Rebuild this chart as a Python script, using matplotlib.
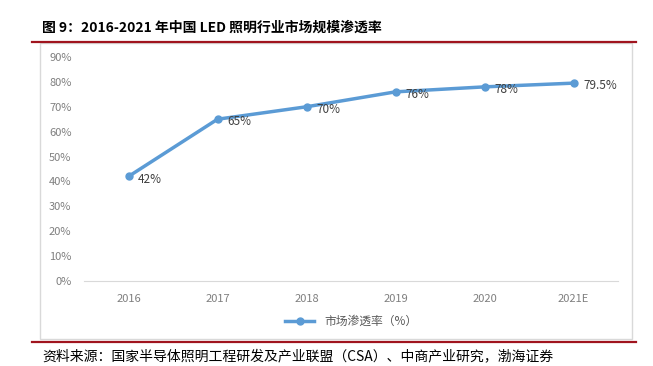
import matplotlib
matplotlib.use("Agg")
import matplotlib.pyplot as plt
from matplotlib.lines import Line2D
from matplotlib.patches import Rectangle

plt.rcParams['font.family'] = ['Noto Sans CJK SC', 'DejaVu Sans']

years = ["2016", "2017", "2018", "2019", "2020", "2021E"]
rates = [0.42, 0.65, 0.70, 0.76, 0.78, 0.795]
rate_labels = ["42%", "65%", "70%", "76%", "78%", "79.5%"]
yticks = [0, 0.1, 0.2, 0.3, 0.4, 0.5, 0.6, 0.7, 0.8, 0.9]

title = "图 9：2016-2021 年中国 LED 照明行业市场规模渗透率"
source = "资料来源：国家半导体照明工程研发及产业联盟（CSA）、中商产业研究，渤海证券"
series_name = "市场渗透率（%）"

blue = "#5B9BD5"
dark_red = "#A0141E"

fig = plt.figure(figsize=(6.53, 3.66), dpi=100)

# chart frame and red rules
fig.patches.append(Rectangle((40 / 653, 1 - 339 / 366), 592 / 653, 296 / 366,
                             transform=fig.transFigure, fill=False,
                             edgecolor="#D9D9D9", linewidth=1))
fig.add_artist(Line2D([32 / 653, 636 / 653], [1 - 42 / 366] * 2,
                      color=dark_red, linewidth=1.6))
fig.add_artist(Line2D([32 / 653, 636 / 653], [1 - 342 / 366] * 2,
                      color=dark_red, linewidth=1.6))

fig.text(42 / 653, 1 - 28 / 366, title, fontsize=10, fontweight="bold",
         color="black", va="center", ha="left")
fig.text(42 / 653, 1 - 356 / 366, source, fontsize=10, color="black",
         va="center", ha="left", style="italic")

ax = fig.add_axes([84 / 653, 1 - 281 / 366, 534 / 653, 224 / 366])
x = list(range(len(years)))
ax.plot(x, rates, color=blue, linewidth=2.5, marker="o", markersize=5,
        label=series_name)
for xi, yi, lab in zip(x, rates, rate_labels):
    ax.annotate(lab, (xi, yi), xytext=(7, -2), textcoords="offset points",
                fontsize=8.5, color="#404040", va="center", ha="left")

ax.set_xlim(-0.5, len(years) - 0.5)
ax.set_ylim(0, 0.9)
ax.set_xticks(x)
ax.set_xticklabels(years)
ax.set_yticks(yticks)
ax.set_yticklabels(["{:.0f}%".format(v * 100) for v in yticks])
ax.tick_params(axis="both", length=0, labelsize=8, labelcolor="#7F7F7F")
ax.tick_params(axis="x", pad=9)
ax.tick_params(axis="y", pad=9)
for side in ["top", "right", "left"]:
    ax.spines[side].set_visible(False)
ax.spines["bottom"].set_color("#D9D9D9")
ax.patch.set_alpha(0)

leg = ax.legend(loc="center", bbox_to_anchor=(0.5, -0.18), frameon=False,
                fontsize=8.5, handlelength=2.5, labelcolor="#595959")

fig.savefig("out.png", dpi=100)
